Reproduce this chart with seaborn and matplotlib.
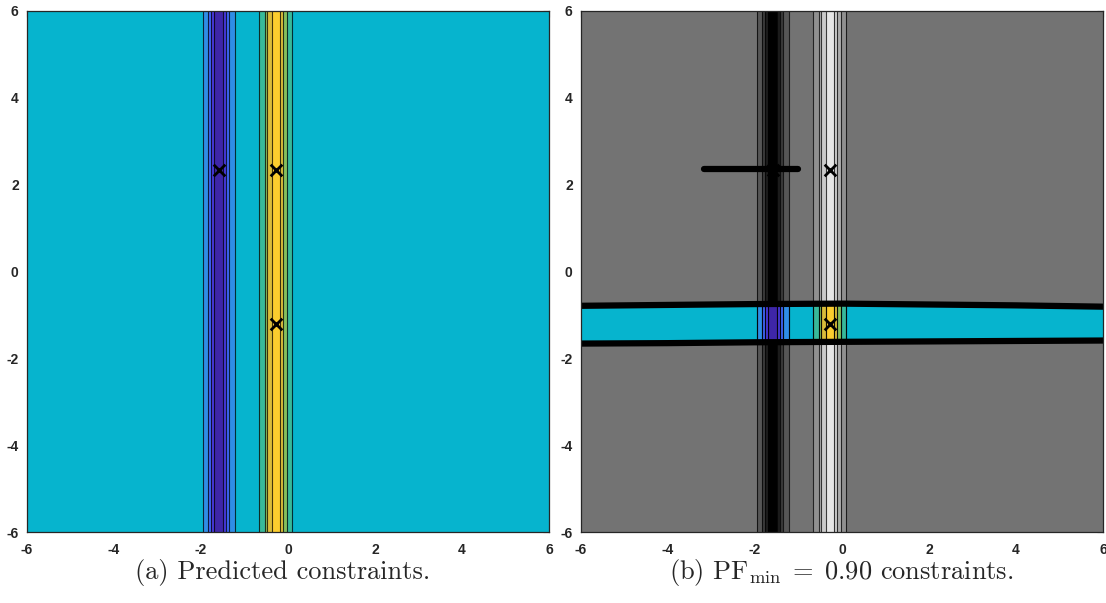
import numpy as np
import matplotlib
matplotlib.use("Agg")
import matplotlib.pyplot as plt
from matplotlib.colors import ListedColormap
from matplotlib.patches import Polygon
import seaborn as sns
import pandas as pd

# ---------------- data ----------------
band_edges = [-6, -1.961, -1.832, -1.777, -1.701, -1.487, -1.425, -1.349, -1.218,
              -0.660, -0.529, -0.476, -0.375, -0.184, -0.107, -0.030, 0.099, 6]
band_levels = [0, -1, -2, -3, -4, -3, -2, -1, 0, 1, 2, 3, 4, 3, 2, 1, 0]

level_colors = ["#3E26A8", "#4638D8", "#3E63F2", "#2F8DE6", "#06B4CE",
                "#38B99A", "#86BF5C", "#D9BC3A", "#FBCD2E"]
level_grays = ["#000000", "#1d1d1d", "#3a3a3a", "#565656", "#737373",
               "#909090", "#adadad", "#cacaca", "#e6e6e6"]

markers_x = [-1.59, -0.28, -0.28]
markers_y = [2.33, 2.33, -1.22]

bound_x = [-6, -4, -2, 0, 2, 4, 6]
bound_top = [-0.79, -0.77, -0.75, -0.74, -0.76, -0.78, -0.81]
bound_bot = [-1.66, -1.65, -1.63, -1.62, -1.61, -1.60, -1.59]

short_x = [-3.18, -1.02]
short_y = [2.35, 2.35]

ticks = [-6, -4, -2, 0, 2, 4, 6]
captions = ["(a) Predicted constraints.",
            r"(b) $\mathrm{PF}_{\mathrm{min}}\;=\;0.90$ constraints."]

# ---------------- style ----------------
sns.set_theme(style="white")
plt.rcParams["axes.unicode_minus"] = False
plt.rcParams["mathtext.fontset"] = "cm"
plt.rcParams["font.family"] = ["Liberation Sans", "DejaVu Sans"]

fig = plt.figure(figsize=(11.06, 6.03), dpi=100)
ax_a = fig.add_axes([27 / 1106, 1 - 532 / 603, 522 / 1106, 521 / 603])
ax_b = fig.add_axes([581 / 1106, 1 - 532 / 603, 522 / 1106, 521 / 603])

cmap_col = ListedColormap(level_colors)
cmap_gray = ListedColormap(level_grays)
vals = np.array(band_levels, dtype=float)[None, :]
xe = np.array(band_edges)
inner_edges = band_edges[1:-1]


def draw_bands(ax, cmap, ylo, yhi, clip=None):
    m = ax.pcolormesh(xe, [ylo, yhi], vals, cmap=cmap, vmin=-4.5, vmax=4.5,
                      shading="flat", zorder=1)
    lc = ax.vlines(inner_edges, ylo, yhi, colors="black", linewidth=0.8,
                   alpha=0.75, zorder=2)
    if clip is not None:
        m.set_clip_path(clip)
        lc.set_clip_path(clip)


def style_axes(ax):
    ax.set_xlim(-6, 6)
    ax.set_ylim(-6, 6)
    ax.set_xticks(ticks)
    ax.set_yticks(ticks)
    ax.set_xticklabels([str(t) for t in ticks], fontweight="bold", fontsize=10)
    ax.set_yticklabels([str(t) for t in ticks], fontweight="bold", fontsize=10)
    ax.tick_params(direction="in", top=True, right=True, length=4, width=0.8,
                   color="#262626")
    ax.tick_params(axis="x", pad=8)
    ax.tick_params(axis="y", pad=6)
    for s in ax.spines.values():
        s.set_visible(True)
        s.set_color("#262626")
        s.set_linewidth(0.9)
        s.set_zorder(10)


# panel (a)
draw_bands(ax_a, cmap_col, -6, 6)
mk = pd.DataFrame({"x": markers_x, "y": markers_y})
sns.scatterplot(data=mk, x="x", y="y", marker="x", s=70, color="black",
                linewidth=2, ax=ax_a, zorder=5, legend=False)
style_axes(ax_a)
ax_a.set_xlabel("")
ax_a.set_ylabel("")

# panel (b)
draw_bands(ax_b, cmap_gray, -6, 6)
poly = Polygon(list(zip(bound_x, bound_top)) + list(zip(bound_x[::-1], bound_bot[::-1])),
               closed=True, transform=ax_b.transData, facecolor="none", edgecolor="none")
ax_b.add_patch(poly)
draw_bands(ax_b, cmap_col, -6, 6, clip=poly)

bd = pd.DataFrame({"x": bound_x * 2, "y": bound_top + bound_bot,
                   "g": ["top"] * len(bound_x) + ["bot"] * len(bound_x)})
sns.lineplot(data=bd, x="x", y="y", units="g", estimator=None, color="black",
             linewidth=4.5, ax=ax_b, zorder=6, legend=False, sort=True)
sh = pd.DataFrame({"x": short_x, "y": short_y})
sns.lineplot(data=sh, x="x", y="y", color="black", linewidth=4.5, ax=ax_b,
             zorder=6, legend=False, solid_capstyle="round")
sns.scatterplot(data=mk, x="x", y="y", marker="x", s=70, color="black",
                linewidth=2, ax=ax_b, zorder=7, legend=False)
style_axes(ax_b)
ax_b.set_xlabel("")
ax_b.set_ylabel("")

fig.text(283 / 1106, 1 - 573 / 603, captions[0], ha="center", va="center",
         fontsize=19, family="cmr10")
fig.text(841 / 1106, 1 - 573 / 603, captions[1], ha="center", va="center",
         fontsize=19, family="cmr10")

fig.savefig("out.png", dpi=100)
